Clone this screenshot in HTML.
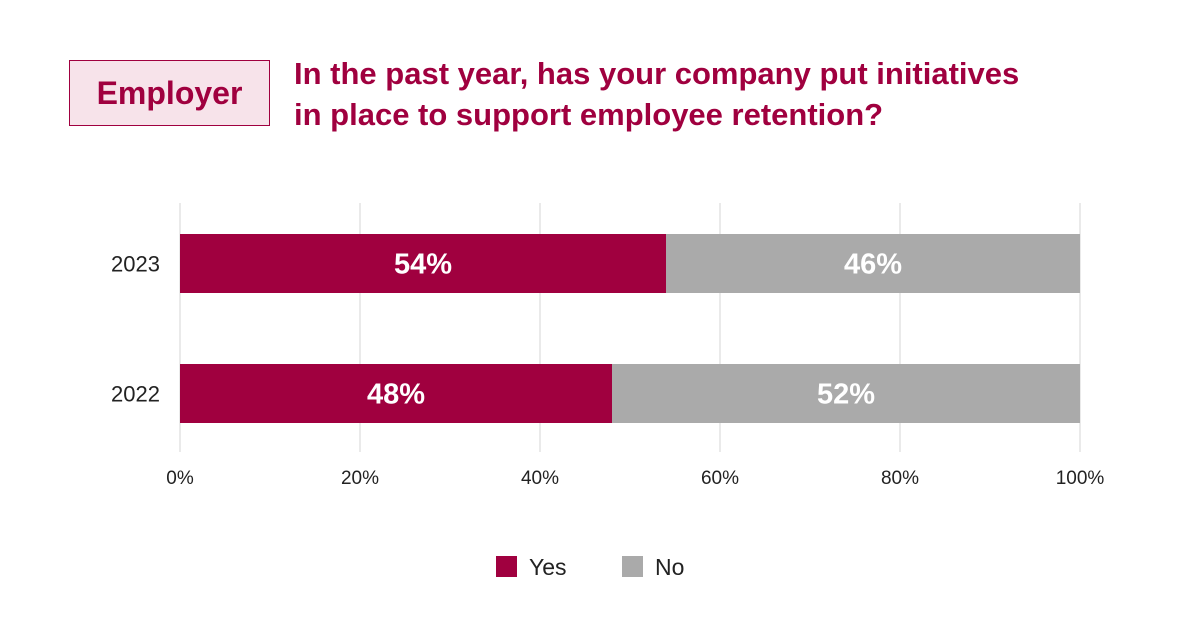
<!DOCTYPE html>
<html><head><meta charset="utf-8"><style>
body{margin:0;background:#fff;font-family:"Liberation Sans",Arial,sans-serif;}
#wrap{position:relative;width:1200px;height:628px;overflow:hidden;background:#fff}
#badge{position:absolute;left:69px;top:60px;width:199px;height:64px;background:#f7e3ea;border:1.5px solid #a0003f;color:#a0003f;font-weight:bold;font-size:32px;line-height:64px;text-align:center}
#title{position:absolute;left:294px;top:53px;color:#a0003f;font-weight:bold;font-size:31px;line-height:41px}
</style></head><body>
<div id="wrap">
<div id="badge">Employer</div>
<div id="title">In the past year, has your company put initiatives<br>in place to support employee retention?</div>
<svg id="chart" width="1200" height="628" style="position:absolute;left:0;top:0"></svg>
</div>
<script>
const categories=["2023","2022"];
const yesValues=[54,48];
const noValues=[46,52];
const tickLabels=["0%","20%","40%","60%","80%","100%"];
const tickValues=[0,20,40,60,80,100];
const svg=document.getElementById('chart');
const NS='http://www.w3.org/2000/svg';
const x0=180,x1=1080;
function xs(v){return x0+(x1-x0)*v/100;}
function ys(i){return 234+i*130;}
const barH=59;
function mk(tag,attrs,parent){const e=document.createElementNS(NS,tag);for(const k in attrs)e.setAttribute(k,attrs[k]);(parent||svg).appendChild(e);return e;}
tickValues.forEach((t,i)=>{
 const g=mk('line',{x1:xs(t),x2:xs(t),y1:203,y2:452,stroke:'#e3e3e3','stroke-width':1.5});
 
 
 const l=mk('text',{x:xs(t),y:484,'text-anchor':'middle','font-size':19,fill:'#222','font-family':'Liberation Sans, sans-serif'});
 l.textContent=tickLabels[i];
 
 
});
categories.forEach((c,i)=>{
 const y=ys(i);
 const lab=mk('text',{x:160,y:y+barH/2+8,'text-anchor':'end','font-size':22,fill:'#222','font-family':'Liberation Sans, sans-serif'});
 lab.textContent=c;
 
 
 const a=mk('rect',{x:xs(0),y:y,width:xs(yesValues[i])-xs(0),height:barH,fill:'#a0003f'});
 
 
 const b=mk('rect',{x:xs(yesValues[i]),y:y,width:xs(yesValues[i]+noValues[i])-xs(yesValues[i]),height:barH,fill:'#aaaaaa'});
 
 
 const t1=mk('text',{x:(xs(0)+xs(yesValues[i]))/2,y:y+barH/2+10,'text-anchor':'middle','font-size':29,'font-weight':'bold',fill:'#fff','font-family':'Liberation Sans, sans-serif'});
 t1.textContent=yesValues[i]+'%';
 
 
 const t2=mk('text',{x:(xs(yesValues[i])+xs(yesValues[i]+noValues[i]))/2,y:y+barH/2+10,'text-anchor':'middle','font-size':29,'font-weight':'bold',fill:'#fff','font-family':'Liberation Sans, sans-serif'});
 t2.textContent=noValues[i]+'%';
 
 
});
[['Yes','#a0003f',496],['No','#aaaaaa',622]].forEach(([n,col,x])=>{
 const s=mk('rect',{x:x,y:556,width:21,height:21,fill:col});
 
 
 const t=mk('text',{x:x+33,y:575,'font-size':23,fill:'#222','font-family':'Liberation Sans, sans-serif'});
 t.textContent=n;
 
 
});
</script>
</body></html>
